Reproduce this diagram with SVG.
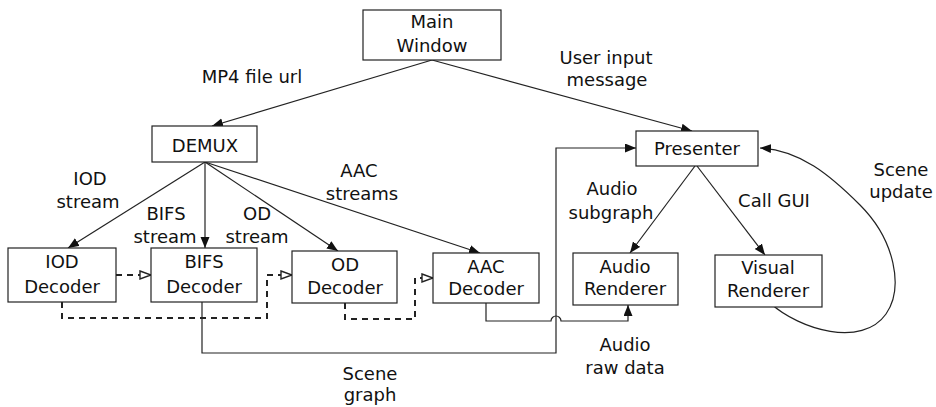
<svg xmlns="http://www.w3.org/2000/svg" width="936" height="407" viewBox="0 0 936 407">
<style>
.box{fill:#fff;stroke:#222;stroke-width:1.2}
text{font-family:"DejaVu Sans","Liberation Sans",sans-serif;font-size:18px;fill:#111;text-anchor:middle}
.ln{fill:none;stroke:#222;stroke-width:1.2}
.ds{fill:none;stroke:#222;stroke-width:2;stroke-dasharray:6 5}
</style>
<defs>
<marker id="a" markerUnits="userSpaceOnUse" markerWidth="12" markerHeight="10" refX="11" refY="4.5" orient="auto"><path d="M0,0 L11,4.5 L0,9 z" fill="#111"/></marker>
<marker id="h" markerUnits="userSpaceOnUse" markerWidth="14" markerHeight="12" refX="12" refY="5" orient="auto"><path d="M1,1 L12,5 L1,9 z" fill="#fff" stroke="#222" stroke-width="1.4"/></marker>
</defs>
<g id="connectors">
<line class="ln" x1="432" y1="60" x2="212" y2="126" marker-end="url(#a)"/>
<line class="ln" x1="432" y1="60" x2="692" y2="131" marker-end="url(#a)"/>
<line class="ln" x1="205" y1="162" x2="68" y2="248" marker-end="url(#a)"/>
<line class="ln" x1="205" y1="162" x2="205" y2="248" marker-end="url(#a)"/>
<line class="ln" x1="205" y1="162" x2="338" y2="251" marker-end="url(#a)"/>
<line class="ln" x1="205" y1="162" x2="480" y2="253" marker-end="url(#a)"/>
<line class="ln" x1="695" y1="166" x2="630" y2="253" marker-end="url(#a)"/>
<line class="ln" x1="697" y1="166" x2="765" y2="255" marker-end="url(#a)"/>
<path class="ln" d="M770,303 C800,330 862,348 886,314 C904,288 895,240 860,205 C830,175 800,150 760,148" marker-end="url(#a)"/>
<path class="ln" d="M202,302 L202,353 L556,353 L556,148 L636,148" marker-end="url(#a)"/>
<path class="ln" d="M486,303 L486,321 L551,321 A5,5 0 0 1 561,321 L628,321 L628,305" marker-end="url(#a)"/>
<path class="ds" d="M116,275 L151,275" marker-end="url(#h)"/>
<path class="ds" d="M62,302 L62,318 L267,318 L267,275 L292,275" marker-end="url(#h)"/>
<path class="ds" d="M345,303 L345,319 L415,319 L415,278 L433,278" marker-end="url(#h)"/>
</g>
<g id="main-window"><rect class="box" x="363" y="10" width="138" height="50"/><text x="432" y="28">Main</text><text x="432" y="52">Window</text></g>
<g id="demux"><rect class="box" x="152" y="126" width="105" height="36"/><text x="205" y="152">DEMUX</text></g>
<g id="presenter"><rect class="box" x="636" y="131" width="122" height="35"/><text x="697" y="155">Presenter</text></g>
<g id="iod-decoder"><rect class="box" x="8" y="248" width="108" height="54"/><text x="62" y="268">IOD</text><text x="62" y="293">Decoder</text></g>
<g id="bifs-decoder"><rect class="box" x="151" y="248" width="106" height="54"/><text x="204" y="268">BIFS</text><text x="204" y="293">Decoder</text></g>
<g id="od-decoder"><rect class="box" x="292" y="251" width="105" height="52"/><text x="345" y="271">OD</text><text x="345" y="294">Decoder</text></g>
<g id="aac-decoder"><rect class="box" x="433" y="253" width="106" height="50"/><text x="486" y="273">AAC</text><text x="486" y="295">Decoder</text></g>
<g id="audio-renderer"><rect class="box" x="573" y="253" width="105" height="52"/><text x="625" y="273">Audio</text><text x="625" y="295">Renderer</text></g>
<g id="visual-renderer"><rect class="box" x="715" y="255" width="107" height="52"/><text x="768" y="274">Visual</text><text x="768" y="297">Renderer</text></g>
<g id="labels">
<text x="252" y="83">MP4 file url</text>
<text x="606" y="64">User input</text><text x="607" y="86">message</text>
<text x="90" y="185">IOD</text><text x="88" y="208">stream</text>
<text x="166" y="220">BIFS</text><text x="165" y="243">stream</text>
<text x="257" y="220">OD</text><text x="257" y="243">stream</text>
<text x="359" y="177">AAC</text><text x="362" y="200">streams</text>
<text x="612" y="195">Audio</text><text x="611" y="219">subgraph</text>
<text x="774" y="207">Call GUI</text>
<text x="901" y="176">Scene</text><text x="901" y="198">update</text>
<text x="625" y="351">Audio</text><text x="625" y="374">raw data</text>
<text x="370" y="380">Scene</text><text x="370" y="401">graph</text>
</g>
</svg>
